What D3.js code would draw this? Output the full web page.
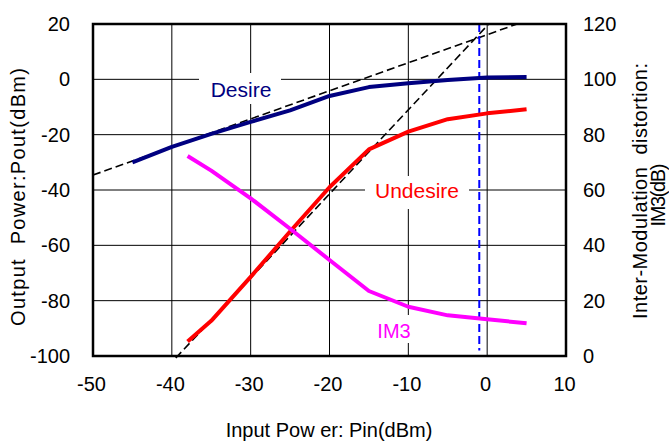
<!DOCTYPE html>
<html>
<head>
<meta charset="utf-8">
<script src="https://cdn.jsdelivr.net/npm/d3@7"></script>
<style>
	body { margin: 0; background: #fff; }
	text { font-family: Arial, "Liberation Sans", sans-serif; }
</style>
</head>
<body>
<svg id="chart" width="669" height="443"></svg>
<script>
	//chart values
var pinDesire = [-45, -40, -35, -30, -25, -20, -15, -10, -5, 0, 5];
var poutDesire = [-30, -24.4, -19.7, -15.4, -11.2, -6, -2.8, -1.4, -0.2, 0.7, 0.8];
var pinUndesire = [-38, -35, -30, -25, -20, -15, -10, -5, 0, 5];
var poutUndesire = [-94.8, -87.3, -71.4, -55, -39, -25.3, -18.9, -14.4, -12.3, -10.8];
var im3 = [72.3, 67, 57, 46, 34.7, 23.5, 17.8, 14.7, 13.3, 11.8];

	//extrapolated dashed lines and the marker
var fundLine = [[-50, -34.6], [3.8, 20]];
var thirdLine = [[-39.5, -100.7], [0.2, 20]];
var markerPin = -1;

var xTicks = [-50, -40, -30, -20, -10, 0, 10];
var yTicks = [-100, -80, -60, -40, -20, 0, 20];
var y2Ticks = [0, 20, 40, 60, 80, 100, 120];

var svg = d3.select('#chart');
var plotLeft = 93, plotRight = 566, plotTop = 24, plotBottom = 356;

var x = d3.scaleLinear().domain([-50, 10]).range([plotLeft, plotRight]);
var y = d3.scaleLinear().domain([-100, 20]).range([plotBottom, plotTop]);
var y2 = d3.scaleLinear().domain([0, 120]).range([plotBottom, plotTop]);

	//grid lines
svg.append('g').selectAll('line')
	.data(xTicks.slice(1, -1))
	.enter().append('line')
	.attr('x1', function(d) { return x(d); })
	.attr('x2', function(d) { return x(d); })
	.attr('y1', plotTop).attr('y2', plotBottom)
	.attr('stroke', '#000').attr('stroke-width', 1);

svg.append('g').selectAll('line')
	.data(yTicks.slice(1, -1))
	.enter().append('line')
	.attr('x1', plotLeft).attr('x2', plotRight)
	.attr('y1', function(d) { return y(d); })
	.attr('y2', function(d) { return y(d); })
	.attr('stroke', '#000').attr('stroke-width', 1);

	//white boxes behind the labels
var boxes = [[199, 73, 82, 31], [365, 176, 104, 33], [370, 315, 48, 28]];
svg.append('g').selectAll('rect')
	.data(boxes)
	.enter().append('rect')
	.attr('x', function(d) { return d[0]; })
	.attr('y', function(d) { return d[1]; })
	.attr('width', function(d) { return d[2]; })
	.attr('height', function(d) { return d[3]; })
	.attr('fill', '#fff');

	//dashed extrapolation lines
var straight = d3.line()
	.x(function(d) { return x(d[0]); })
	.y(function(d) { return y(d[1]); });

[fundLine, thirdLine].forEach(function(pts) {
	svg.append('path')
		.attr('d', straight(pts))
		.attr('fill', 'none')
		.attr('stroke', '#000')
		.attr('stroke-width', 1.6)
		.attr('stroke-dasharray', '8,4');
});

svg.append('line')
	.attr('x1', x(markerPin)).attr('x2', x(markerPin))
	.attr('y1', y(20)).attr('y2', y(-98))
	.attr('stroke', '#0000ff')
	.attr('stroke-width', 2)
	.attr('stroke-dasharray', '8,4');

	//series
function drawSeries(xs, ys, scale, color) {
	var line = d3.line()
		.x(function(d, i) { return x(xs[i]); })
		.y(function(d) { return scale(d); });
	svg.append('path')
		.datum(ys)
		.attr('d', line)
		.attr('fill', 'none')
		.attr('stroke', color)
		.attr('stroke-width', 4)
		.attr('stroke-linejoin', 'round');
}

drawSeries(pinDesire, poutDesire, y, '#000080');
drawSeries(pinUndesire, poutUndesire, y, '#ff0000');
drawSeries(pinUndesire, im3, y2, '#ff00ff');

	//frame
svg.append('rect')
	.attr('x', plotLeft).attr('y', plotTop)
	.attr('width', plotRight - plotLeft).attr('height', plotBottom - plotTop)
	.attr('fill', 'none')
	.attr('stroke', '#000')
	.attr('stroke-width', 2.5);

	//axes (labels only, the frame and grid do the rest)
var plainFormat = function(d) { return String(d); };

var xAxis = svg.append('g')
	.attr('transform', 'translate(-2,' + (plotBottom + 18) + ')')
	.call(d3.axisBottom(x).tickValues(xTicks).tickSize(0).tickFormat(plainFormat));
var yAxis = svg.append('g')
	.attr('transform', 'translate(' + (plotLeft - 20) + ',0)')
	.call(d3.axisLeft(y).tickValues(yTicks).tickSize(0).tickFormat(plainFormat));
var y2Axis = svg.append('g')
	.attr('transform', 'translate(' + (plotRight + 14) + ',0)')
	.call(d3.axisRight(y2).tickValues(y2Ticks).tickSize(0).tickFormat(plainFormat));

[xAxis, yAxis, y2Axis].forEach(function(a) {
	a.select('.domain').remove();
	a.selectAll('text')
		.attr('font-family', 'Arial, "Liberation Sans", sans-serif')
		.attr('font-size', 20)
		.attr('fill', '#000');
});

	//series labels
svg.append('text').attr('x', 241).attr('y', 97).attr('text-anchor', 'middle')
	.attr('font-size', 21).attr('fill', '#000080').text('Desire');
svg.append('text').attr('x', 417).attr('y', 198).attr('text-anchor', 'middle')
	.attr('font-size', 21).attr('fill', '#ff0000').text('Undesire');
svg.append('text').attr('x', 394).attr('y', 338).attr('text-anchor', 'middle')
	.attr('font-size', 20).attr('fill', '#ff00ff').text('IM3');

	//axis titles
svg.append('text').attr('x', 329).attr('y', 437).attr('text-anchor', 'middle')
	.attr('font-size', 20).attr('fill', '#000').text('Input Pow er: Pin(dBm)');

function vTitle(str, cx, cy, len) {
	svg.append('text')
		.attr('transform', 'translate(' + cx + ',' + cy + ') rotate(-90)')
		.attr('text-anchor', 'middle')
		.attr('font-size', 20).attr('fill', '#000')
		.attr('xml:space', 'preserve')
		.attr('textLength', len)
		.attr('lengthAdjust', 'spacing')
		.text(str);
}

vTitle('Output  Power:Pout(dBm)', 25, 197, 258);
vTitle('Inter-Modulation  distortion:', 647, 191, 256);
vTitle('IM3(dB)', 665, 195, 63);
</script>
</body>
</html>
